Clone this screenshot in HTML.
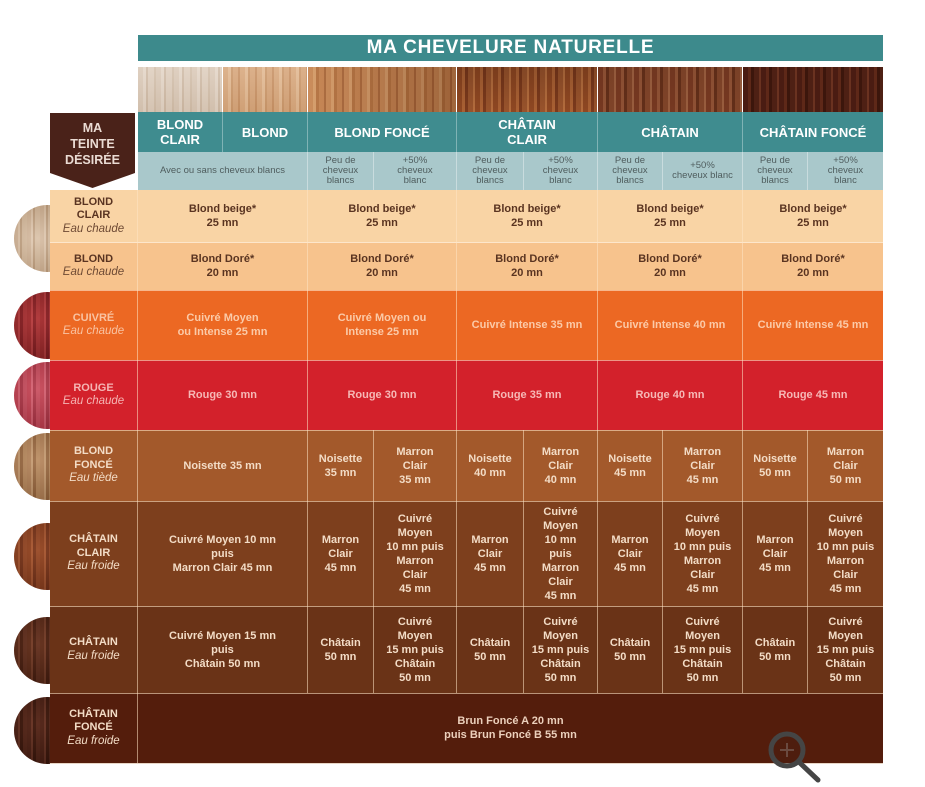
<!DOCTYPE html>
<html><head><meta charset="utf-8">
<style>
html,body{margin:0;padding:0;background:#fff;}
body{width:925px;height:787px;position:relative;overflow:hidden;font-family:"Liberation Sans",Arial,sans-serif;}
.a{position:absolute;}
.c{position:absolute;display:flex;align-items:center;justify-content:center;text-align:center;box-sizing:border-box;}
.d{font-weight:bold;font-size:11px;line-height:14px;}
.hair{position:absolute;top:67px;height:45px;}
.circ{position:absolute;left:14px;width:67px;height:67px;border-radius:50%;}
.lab{font-weight:bold;font-size:11px;line-height:13.5px;}
.lab i{font-weight:normal;font-size:11.5px;}
.vl{position:absolute;width:1px;background:rgba(255,228,196,0.55);}
.hl{position:absolute;height:1px;left:50px;width:833px;background:rgba(255,228,196,0.6);}
.sub{font-size:9.5px;line-height:10px;color:#4f5d5e;}
</style></head><body>

<!-- title bar -->
<div class="c" style="left:138px;top:35px;width:745px;height:26px;background:#3d8a8c;color:#fff;font-size:19px;font-weight:bold;letter-spacing:0.8px;">MA CHEVELURE NATURELLE</div>

<!-- hair strips -->
<div class="hair" style="left:138px;width:84px;background:linear-gradient(180deg,rgba(255,255,255,0.12),rgba(120,90,60,0.10)),repeating-linear-gradient(90deg,#dbcab9 0 5px,#e4d6c8 5px 8px,#d0bca8 8px 10px,#dfcfbf 10px 16px,#d3c0ac 16px 18px);"></div>
<div class="hair" style="left:223px;width:84px;background:linear-gradient(180deg,rgba(255,255,255,0.10),rgba(120,70,30,0.10)),repeating-linear-gradient(90deg,#d9aa80 0 5px,#e3bb95 5px 8px,#cc9a6e 8px 10px,#d8a87e 10px 15px,#c99468 15px 17px);"></div>
<div class="hair" style="left:308px;width:148px;background:linear-gradient(90deg,rgba(255,220,180,0.08),rgba(60,20,0,0.28)),repeating-linear-gradient(90deg,#c68654 0 5px,#d39a68 5px 8px,#b2703f 8px 11px,#c3814f 11px 16px,#a8663a 16px 18px);"></div>
<div class="hair" style="left:457px;width:140px;background:linear-gradient(180deg,rgba(0,0,0,0.12),rgba(255,160,90,0.04)),repeating-linear-gradient(90deg,#8a4420 0 5px,#a65e32 5px 8px,#76361a 8px 11px,#94502a 11px 16px,#b06a3c 16px 18px);"></div>
<div class="hair" style="left:598px;width:144px;background:linear-gradient(180deg,rgba(0,0,0,0.08),rgba(0,0,0,0.04)),repeating-linear-gradient(90deg,#7a3a22 0 5px,#945436 5px 8px,#66301a 8px 11px,#84462a 11px 16px,#9e6040 16px 18px);"></div>
<div class="hair" style="left:743px;width:140px;background:repeating-linear-gradient(90deg,#4a1c12 0 5px,#5e2818 5px 8px,#3c160c 8px 11px,#4e2014 11px 16px,#6a3220 16px 18px);"></div>

<!-- column headers -->
<div class="a" style="left:138px;top:112px;width:745px;height:40px;background:#3f8c8f;"></div>
<div class="c" style="left:138px;top:112px;width:84px;height:40px;color:#fff;font-weight:bold;font-size:13px;line-height:15px;">BLOND<br>CLAIR</div>
<div class="c" style="left:223px;top:112px;width:84px;height:40px;color:#fff;font-weight:bold;font-size:13px;">BLOND</div>
<div class="c" style="left:308px;top:112px;width:148px;height:40px;color:#fff;font-weight:bold;font-size:13px;">BLOND FONCÉ</div>
<div class="c" style="left:457px;top:112px;width:140px;height:40px;color:#fff;font-weight:bold;font-size:13px;line-height:15px;">CHÂTAIN<br>CLAIR</div>
<div class="c" style="left:598px;top:112px;width:144px;height:40px;color:#fff;font-weight:bold;font-size:13px;">CHÂTAIN</div>
<div class="c" style="left:743px;top:112px;width:140px;height:40px;color:#fff;font-weight:bold;font-size:13px;">CHÂTAIN FONCÉ</div>
<div class="a" style="left:222px;top:112px;width:1px;height:40px;background:#7fb3b5;"></div>
<div class="a" style="left:307px;top:112px;width:1px;height:40px;background:#7fb3b5;"></div>
<div class="a" style="left:456px;top:112px;width:1px;height:40px;background:#7fb3b5;"></div>
<div class="a" style="left:597px;top:112px;width:1px;height:40px;background:#7fb3b5;"></div>
<div class="a" style="left:742px;top:112px;width:1px;height:40px;background:#7fb3b5;"></div>

<!-- sub header -->
<div class="a" style="left:138px;top:152px;width:745px;height:38px;background:#a9c8cb;"></div>
<div class="c sub" style="left:138px;top:152px;width:169px;height:38px;">Avec ou sans cheveux blancs</div>
<div class="c sub" style="left:308px;top:152px;width:65px;height:38px;">Peu de<br>cheveux<br>blancs</div>
<div class="c sub" style="left:374px;top:152px;width:82px;height:38px;">+50%<br>cheveux<br>blanc</div>
<div class="c sub" style="left:457px;top:152px;width:66px;height:38px;">Peu de<br>cheveux<br>blancs</div>
<div class="c sub" style="left:524px;top:152px;width:73px;height:38px;">+50%<br>cheveux<br>blanc</div>
<div class="c sub" style="left:598px;top:152px;width:64px;height:38px;">Peu de<br>cheveux<br>blancs</div>
<div class="c sub" style="left:663px;top:152px;width:79px;height:38px;">+50%<br>cheveux blanc</div>
<div class="c sub" style="left:743px;top:152px;width:64px;height:38px;">Peu de<br>cheveux<br>blancs</div>
<div class="c sub" style="left:808px;top:152px;width:75px;height:38px;">+50%<br>cheveux<br>blanc</div>
<div class="a" style="left:307px;top:152px;width:1px;height:38px;background:#c9dcde;"></div>
<div class="a" style="left:373px;top:152px;width:1px;height:38px;background:#c9dcde;"></div>
<div class="a" style="left:456px;top:152px;width:1px;height:38px;background:#c9dcde;"></div>
<div class="a" style="left:523px;top:152px;width:1px;height:38px;background:#c9dcde;"></div>
<div class="a" style="left:597px;top:152px;width:1px;height:38px;background:#c9dcde;"></div>
<div class="a" style="left:662px;top:152px;width:1px;height:38px;background:#c9dcde;"></div>
<div class="a" style="left:742px;top:152px;width:1px;height:38px;background:#c9dcde;"></div>
<div class="a" style="left:807px;top:152px;width:1px;height:38px;background:#c9dcde;"></div>

<!-- MA TEINTE DESIREE -->
<svg class="a" style="left:50px;top:113px;" width="85" height="75" viewBox="0 0 85 75"><polygon points="0,0 85,0 85,60 42.5,75 0,60" fill="#4a2219"/></svg>
<div class="c" style="left:50px;top:118px;width:85px;height:52px;color:#eadbd3;font-weight:bold;font-size:12.5px;line-height:16px;">MA<br>TEINTE<br>DÉSIRÉE</div>

<!-- circles -->
<div class="circ" style="top:205px;background:radial-gradient(circle at 35% 50%,rgba(255,255,255,0.18),rgba(80,50,20,0.2) 75%),repeating-linear-gradient(90deg,#d2b598 0 4px,#dfc6ac 4px 6px,#c0a080 6px 8px,#d6bb9e 8px 13px);"></div>
<div class="circ" style="top:292px;background:radial-gradient(circle at 35% 40%,rgba(255,120,120,0.15),rgba(40,0,0,0.3) 80%),repeating-linear-gradient(90deg,#9a2a2c 0 4px,#b43e40 4px 6px,#801e22 6px 9px,#a43234 9px 13px);"></div>
<div class="circ" style="top:362px;background:radial-gradient(circle at 35% 40%,rgba(255,180,190,0.15),rgba(60,0,10,0.25) 80%),repeating-linear-gradient(90deg,#c04050 0 4px,#d46070 4px 6px,#a83444 6px 9px,#c44c5c 9px 13px);"></div>
<div class="circ" style="top:433px;background:radial-gradient(circle at 35% 40%,rgba(255,230,200,0.15),rgba(50,25,0,0.25) 80%),repeating-linear-gradient(90deg,#b08058 0 4px,#c49a72 4px 6px,#94643e 6px 9px,#b4865c 9px 13px);"></div>
<div class="circ" style="top:523px;background:radial-gradient(circle at 35% 40%,rgba(255,170,120,0.12),rgba(40,10,0,0.28) 80%),repeating-linear-gradient(90deg,#8a4020 0 4px,#a45632 4px 6px,#72321a 6px 9px,#904626 9px 13px);"></div>
<div class="circ" style="top:617px;background:radial-gradient(circle at 35% 40%,rgba(200,130,100,0.12),rgba(20,5,0,0.3) 80%),repeating-linear-gradient(90deg,#5a2a18 0 4px,#723c28 4px 6px,#461e10 6px 9px,#5e2e1e 9px 13px);"></div>
<div class="circ" style="top:697px;background:radial-gradient(circle at 35% 40%,rgba(200,130,100,0.1),rgba(20,5,0,0.3) 80%),repeating-linear-gradient(90deg,#4a2015 0 4px,#643224 4px 6px,#38160c 6px 9px,#502418 9px 13px);"></div>

<!-- row backgrounds -->
<div class="a" style="left:50px;top:190px;width:833px;height:52px;background:#f9d4a5;"></div>
<div class="a" style="left:50px;top:242px;width:833px;height:48px;background:#f7c38d;"></div>
<div class="a" style="left:50px;top:290px;width:833px;height:70px;background:#ec6823;"></div>
<div class="a" style="left:50px;top:360px;width:833px;height:70px;background:#d3212b;"></div>
<div class="a" style="left:50px;top:430px;width:833px;height:71px;background:#a3592b;"></div>
<div class="a" style="left:50px;top:501px;width:833px;height:105px;background:#7d3f1d;"></div>
<div class="a" style="left:50px;top:606px;width:833px;height:87px;background:#6a3317;"></div>
<div class="a" style="left:50px;top:693px;width:833px;height:70px;background:#541d0c;"></div>

<!-- grid lines -->
<div class="hl" style="top:242px;background:rgba(255,245,230,0.7);"></div>
<div class="hl" style="top:290px;background:rgba(255,235,210,0.6);"></div>
<div class="hl" style="top:360px;"></div>
<div class="hl" style="top:430px;"></div>
<div class="hl" style="top:501px;"></div>
<div class="hl" style="top:606px;"></div>
<div class="hl" style="top:693px;"></div>
<div class="vl" style="left:137px;top:190px;height:573px;"></div>
<div class="vl" style="left:307px;top:190px;height:503px;"></div>
<div class="vl" style="left:456px;top:190px;height:503px;"></div>
<div class="vl" style="left:597px;top:190px;height:503px;"></div>
<div class="vl" style="left:742px;top:190px;height:503px;"></div>
<div class="vl" style="left:373px;top:430px;height:263px;"></div>
<div class="vl" style="left:523px;top:430px;height:263px;"></div>
<div class="vl" style="left:662px;top:430px;height:263px;"></div>
<div class="vl" style="left:807px;top:430px;height:263px;"></div>
<div class="a" style="left:50px;top:763px;width:833px;height:1px;background:#e8d6c6;"></div>

<!-- left labels -->
<div class="c lab" style="left:50px;top:190px;width:87px;height:52px;color:#5a3421;"><div>BLOND<br>CLAIR<br><i style="color:#6e4a34">Eau chaude</i></div></div>
<div class="c lab" style="left:50px;top:242px;width:87px;height:48px;color:#5a3421;"><div>BLOND<br><i style="color:#6e4a34">Eau chaude</i></div></div>
<div class="c lab" style="left:50px;top:290px;width:87px;height:70px;color:#f9c3a2;"><div>CUIVRÉ<br><i>Eau chaude</i></div></div>
<div class="c lab" style="left:50px;top:360px;width:87px;height:70px;color:#f5b4b3;"><div>ROUGE<br><i>Eau chaude</i></div></div>
<div class="c lab" style="left:50px;top:430px;width:87px;height:71px;color:#f3dcc6;"><div>BLOND<br>FONCÉ<br><i>Eau tiède</i></div></div>
<div class="c lab" style="left:50px;top:501px;width:87px;height:105px;color:#f3dcc6;"><div>CHÂTAIN<br>CLAIR<br><i>Eau froide</i></div></div>
<div class="c lab" style="left:50px;top:606px;width:87px;height:87px;color:#f3dcc6;"><div>CHÂTAIN<br><i>Eau froide</i></div></div>
<div class="c lab" style="left:50px;top:693px;width:87px;height:70px;color:#f3dcc6;"><div>CHÂTAIN<br>FONCÉ<br><i>Eau froide</i></div></div>

<!-- row 1 -->
<div class="c d" style="left:138px;top:190px;width:169px;height:52px;color:#5a3421;">Blond beige*<br>25 mn</div>
<div class="c d" style="left:308px;top:190px;width:148px;height:52px;color:#5a3421;">Blond beige*<br>25 mn</div>
<div class="c d" style="left:457px;top:190px;width:140px;height:52px;color:#5a3421;">Blond beige*<br>25 mn</div>
<div class="c d" style="left:598px;top:190px;width:144px;height:52px;color:#5a3421;">Blond beige*<br>25 mn</div>
<div class="c d" style="left:743px;top:190px;width:140px;height:52px;color:#5a3421;">Blond beige*<br>25 mn</div>
<!-- row 2 -->
<div class="c d" style="left:138px;top:242px;width:169px;height:48px;color:#5a3421;">Blond Doré*<br>20 mn</div>
<div class="c d" style="left:308px;top:242px;width:148px;height:48px;color:#5a3421;">Blond Doré*<br>20 mn</div>
<div class="c d" style="left:457px;top:242px;width:140px;height:48px;color:#5a3421;">Blond Doré*<br>20 mn</div>
<div class="c d" style="left:598px;top:242px;width:144px;height:48px;color:#5a3421;">Blond Doré*<br>20 mn</div>
<div class="c d" style="left:743px;top:242px;width:140px;height:48px;color:#5a3421;">Blond Doré*<br>20 mn</div>
<!-- row 3 -->
<div class="c d" style="left:138px;top:290px;width:169px;height:70px;color:#fbcaa8;">Cuivré Moyen<br>ou Intense 25 mn</div>
<div class="c d" style="left:308px;top:290px;width:148px;height:70px;color:#fbcaa8;">Cuivré Moyen ou<br>Intense 25 mn</div>
<div class="c d" style="left:457px;top:290px;width:140px;height:70px;color:#fbcaa8;">Cuivré Intense 35 mn</div>
<div class="c d" style="left:598px;top:290px;width:144px;height:70px;color:#fbcaa8;">Cuivré Intense 40 mn</div>
<div class="c d" style="left:743px;top:290px;width:140px;height:70px;color:#fbcaa8;">Cuivré Intense 45 mn</div>
<!-- row 4 -->
<div class="c d" style="left:138px;top:360px;width:169px;height:70px;color:#f6b8b6;">Rouge 30 mn</div>
<div class="c d" style="left:308px;top:360px;width:148px;height:70px;color:#f6b8b6;">Rouge 30 mn</div>
<div class="c d" style="left:457px;top:360px;width:140px;height:70px;color:#f6b8b6;">Rouge 35 mn</div>
<div class="c d" style="left:598px;top:360px;width:144px;height:70px;color:#f6b8b6;">Rouge 40 mn</div>
<div class="c d" style="left:743px;top:360px;width:140px;height:70px;color:#f6b8b6;">Rouge 45 mn</div>
<!-- row 5 -->
<div class="c d" style="left:138px;top:430px;width:169px;height:71px;color:#f3dcc6;">Noisette 35 mn</div>
<div class="c d" style="left:308px;top:430px;width:65px;height:71px;color:#f3dcc6;">Noisette<br>35 mn</div>
<div class="c d" style="left:374px;top:430px;width:82px;height:71px;color:#f3dcc6;">Marron<br>Clair<br>35 mn</div>
<div class="c d" style="left:457px;top:430px;width:66px;height:71px;color:#f3dcc6;">Noisette<br>40 mn</div>
<div class="c d" style="left:524px;top:430px;width:73px;height:71px;color:#f3dcc6;">Marron<br>Clair<br>40 mn</div>
<div class="c d" style="left:598px;top:430px;width:64px;height:71px;color:#f3dcc6;">Noisette<br>45 mn</div>
<div class="c d" style="left:663px;top:430px;width:79px;height:71px;color:#f3dcc6;">Marron<br>Clair<br>45 mn</div>
<div class="c d" style="left:743px;top:430px;width:64px;height:71px;color:#f3dcc6;">Noisette<br>50 mn</div>
<div class="c d" style="left:808px;top:430px;width:75px;height:71px;color:#f3dcc6;">Marron<br>Clair<br>50 mn</div>
<!-- row 6 -->
<div class="c d" style="left:138px;top:501px;width:169px;height:105px;color:#f3dcc6;">Cuivré Moyen 10 mn<br>puis<br>Marron Clair 45 mn</div>
<div class="c d" style="left:308px;top:501px;width:65px;height:105px;color:#f3dcc6;">Marron<br>Clair<br>45 mn</div>
<div class="c d" style="left:374px;top:501px;width:82px;height:105px;color:#f3dcc6;">Cuivré<br>Moyen<br>10 mn puis<br>Marron<br>Clair<br>45 mn</div>
<div class="c d" style="left:457px;top:501px;width:66px;height:105px;color:#f3dcc6;">Marron<br>Clair<br>45 mn</div>
<div class="c d" style="left:524px;top:501px;width:73px;height:105px;color:#f3dcc6;">Cuivré<br>Moyen<br>10 mn<br>puis<br>Marron<br>Clair<br>45 mn</div>
<div class="c d" style="left:598px;top:501px;width:64px;height:105px;color:#f3dcc6;">Marron<br>Clair<br>45 mn</div>
<div class="c d" style="left:663px;top:501px;width:79px;height:105px;color:#f3dcc6;">Cuivré<br>Moyen<br>10 mn puis<br>Marron<br>Clair<br>45 mn</div>
<div class="c d" style="left:743px;top:501px;width:64px;height:105px;color:#f3dcc6;">Marron<br>Clair<br>45 mn</div>
<div class="c d" style="left:808px;top:501px;width:75px;height:105px;color:#f3dcc6;">Cuivré<br>Moyen<br>10 mn puis<br>Marron<br>Clair<br>45 mn</div>
<!-- row 7 -->
<div class="c d" style="left:138px;top:606px;width:169px;height:87px;color:#f3dcc6;">Cuivré Moyen 15 mn<br>puis<br>Châtain 50 mn</div>
<div class="c d" style="left:308px;top:606px;width:65px;height:87px;color:#f3dcc6;">Châtain<br>50 mn</div>
<div class="c d" style="left:374px;top:606px;width:82px;height:87px;color:#f3dcc6;">Cuivré<br>Moyen<br>15 mn puis<br>Châtain<br>50 mn</div>
<div class="c d" style="left:457px;top:606px;width:66px;height:87px;color:#f3dcc6;">Châtain<br>50 mn</div>
<div class="c d" style="left:524px;top:606px;width:73px;height:87px;color:#f3dcc6;">Cuivré<br>Moyen<br>15 mn puis<br>Châtain<br>50 mn</div>
<div class="c d" style="left:598px;top:606px;width:64px;height:87px;color:#f3dcc6;">Châtain<br>50 mn</div>
<div class="c d" style="left:663px;top:606px;width:79px;height:87px;color:#f3dcc6;">Cuivré<br>Moyen<br>15 mn puis<br>Châtain<br>50 mn</div>
<div class="c d" style="left:743px;top:606px;width:64px;height:87px;color:#f3dcc6;">Châtain<br>50 mn</div>
<div class="c d" style="left:808px;top:606px;width:75px;height:87px;color:#f3dcc6;">Cuivré<br>Moyen<br>15 mn puis<br>Châtain<br>50 mn</div>
<!-- row 8 -->
<div class="c d" style="left:138px;top:693px;width:745px;height:70px;color:#ecd0bc;">Brun Foncé A 20 mn<br>puis Brun Foncé B 55 mn</div>

<!-- magnifier -->
<svg class="a" style="left:765px;top:728px;" width="60" height="59" viewBox="0 0 60 59">
<circle cx="22" cy="22" r="16" fill="rgba(60,30,20,0.25)" stroke="#454545" stroke-width="5"/>
<line x1="22" y1="15" x2="22" y2="29" stroke="#6a4a40" stroke-width="2"/>
<line x1="15" y1="22" x2="29" y2="22" stroke="#6a4a40" stroke-width="2"/>
<line x1="34" y1="34" x2="53" y2="52" stroke="#454545" stroke-width="5" stroke-linecap="round"/>
</svg>

</body></html>
